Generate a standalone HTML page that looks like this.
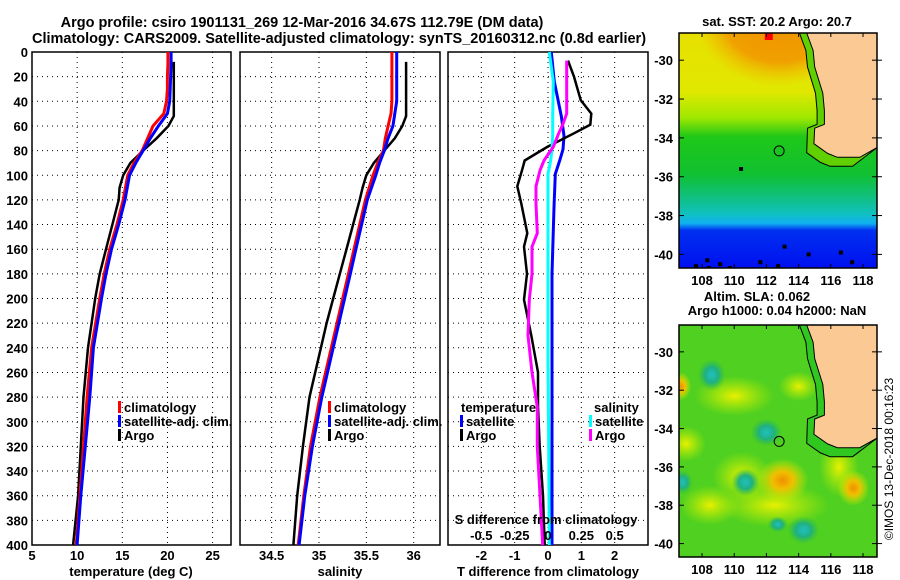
<!DOCTYPE html>
<html><head><meta charset="utf-8"><style>
html,body{margin:0;padding:0;background:#fff}
svg{display:block;font-family:"Liberation Sans",Arial,sans-serif;font-weight:bold}
text{font-size:13px;fill:#000}
</style></head><body>
<svg id="fig" width="900" height="580" viewBox="0 0 900 580" xmlns="http://www.w3.org/2000/svg">
<defs>
<linearGradient id="sstGrad" x1="0" y1="0" x2="0" y2="1">
<stop offset="0" stop-color="#e8e000"/><stop offset="0.25" stop-color="#e0e800"/><stop offset="0.36" stop-color="#a0e800"/>
<stop offset="0.44" stop-color="#20c818"/><stop offset="0.6" stop-color="#10c030"/><stop offset="0.7" stop-color="#10c080"/>
<stop offset="0.77" stop-color="#10c0c0"/><stop offset="0.81" stop-color="#10b0f0"/><stop offset="0.84" stop-color="#0030f0"/><stop offset="1" stop-color="#0010f0"/>
</linearGradient>
<radialGradient id="orangeBlob" cx="0.5" cy="0.3" r="0.5"><stop offset="0" stop-color="#f09000"/><stop offset="0.65" stop-color="#f0a000"/><stop offset="1" stop-color="#f0c000" stop-opacity="0"/></radialGradient>
<radialGradient id="tealBlob"><stop offset="0" stop-color="#20c0c0"/><stop offset="0.5" stop-color="#20b080"/><stop offset="1" stop-color="#30c040" stop-opacity="0"/></radialGradient>
<radialGradient id="yelBlob"><stop offset="0" stop-color="#e8f000"/><stop offset="1" stop-color="#c0f000" stop-opacity="0"/></radialGradient>
<radialGradient id="orBlob"><stop offset="0" stop-color="#f09000"/><stop offset="0.4" stop-color="#f0c000"/><stop offset="1" stop-color="#d0f000" stop-opacity="0"/></radialGradient>
<clipPath id="clip1"><rect x="679" y="33" width="198" height="235"/></clipPath>
<clipPath id="clip2"><rect x="679" y="325" width="198" height="232"/></clipPath>
</defs>
<text x="302" y="27" text-anchor="middle" style="font-size:14.5px">Argo profile: csiro 1901131_269 12-Mar-2016 34.67S 112.79E (DM data)</text>
<text x="339" y="43" text-anchor="middle" style="font-size:14.5px">Climatology: CARS2009. Satellite-adjusted climatology: synTS_20160312.nc (0.8d earlier)</text>
<g id="plots"></g>
<g id="maps"></g>
<text transform="translate(893,459) rotate(-90)" text-anchor="middle" style="font-size:12px;font-weight:normal">©IMOS 13-Dec-2018 00:16:23</text>
</svg>
<script>
const depths=[0,10,20,30,40,50,60,70,80,90,100,120,140,160,180,200,240,280,320,360,400];
const tClim=[20.05,20.05,20.0,20.0,19.9,19.6,18.4,17.8,17.2,16.3,15.6,15.1,14.4,13.6,13.0,12.5,11.6,11.1,10.7,10.3,9.9];
const tSat=[20.4,20.4,20.35,20.3,20.25,20.0,19.0,18.1,17.3,16.5,15.8,15.3,14.6,13.8,13.2,12.7,11.8,11.4,10.9,10.4,10.0];
const argoDepths=[8,20,40,52,60,70,80,90,100,110,120,140,160,180,200,220,240,280,320,360,400];
const tArgo=[20.7,20.7,20.7,20.7,20.1,18.8,17.3,15.9,15.1,14.7,14.6,13.9,13.2,12.5,12.0,11.6,11.2,10.7,10.4,10.1,9.55];
const sClim=[35.77,35.77,35.77,35.77,35.77,35.76,35.73,35.70,35.68,35.62,35.57,35.49,35.43,35.37,35.31,35.25,35.13,35.01,34.91,34.84,34.78];
const sSat=[35.82,35.82,35.82,35.82,35.82,35.80,35.78,35.73,35.69,35.64,35.60,35.51,35.45,35.39,35.33,35.27,35.15,35.03,34.93,34.85,34.79];
const sArgo=[35.92,35.92,35.92,35.92,35.88,35.80,35.69,35.58,35.50,35.46,35.43,35.36,35.29,35.22,35.15,35.08,35.02,34.90,34.83,34.77,34.73];
const diffDepths=[7,20,39,50,59,66,77,88,96,109,123,147,158,180,201,230,260,288,320,360,400];
const tDiffArgo=[0.6,0.78,0.98,1.3,1.27,0.78,-0.02,-0.7,-0.78,-0.92,-0.8,-0.62,-0.72,-0.63,-0.72,-0.5,-0.3,-0.3,-0.25,-0.15,-0.1];
const sDiffArgo=[0.14,0.14,0.14,0.14,0.11,0.08,0.04,-0.03,-0.06,-0.09,-0.09,-0.08,-0.12,-0.12,-0.14,-0.15,-0.12,-0.08,-0.08,-0.06,-0.04];
const satDepths=[0,24,52,68,79,88,99,126,180,250,320,400];
const tDiffSat=[0.1,0.19,0.4,0.48,0.45,0.35,0.22,0.18,0.12,0.12,0.12,0.12];
const sDiffSat=[0.01,0.04,0.035,0.035,0.03,0.02,0.0,0.0,0.0,0.0,0.005,0.01];
const depthTicks=[0,20,40,60,80,100,120,140,160,180,200,220,240,260,280,300,320,340,360,380,400];
const tTicks=[5,10,15,20,25];
const salTicks=[34.5,35,35.5,36];
const tdTicks=[-2,-1,0,1,2];
const tdLabels=["-2","-1","0","1","2"];
const sdTicks=[-0.5,-0.25,0,0.25,0.5];
const sdLabels=["-0.5","-0.25","0","0.25","0.5"];
const latTicks=[-30,-32,-34,-36,-38,-40];
const lonTicks=[108,110,112,114,116,118];
const argoPos=[112.79,-34.67];
const coastLon=[114.5,114.9,115.0,115.5,115.6,115.6,115.0,114.95,115.8,116.4,117.8,118.87,118.87];
const coastLat=[-28.6,-29.5,-30.35,-31.7,-32.6,-33.3,-33.5,-34.3,-34.8,-35.0,-35.0,-34.5,-28.6];

const NS='http://www.w3.org/2000/svg';
function el(tag,attrs,parent){const e=document.createElementNS(NS,tag);for(const k in attrs)e.setAttribute(k,attrs[k]);parent.appendChild(e);return e;}
const plots=document.getElementById('plots');
const Y0=52,Y1=545;
const yD=d=>Y0+(d/400)*(Y1-Y0);
function scale(x0,x1,v0,v1){return v=>x0+(v-v0)/(v1-v0)*(x1-x0);}

function frame(x0,x1,gridX,name){
  const g=el('g',{},plots);
  
  
  depthTicks.forEach(d=>{if(d>0&&d<400){const l=el('line',{x1:x0,x2:x1,y1:yD(d),y2:yD(d),stroke:'#000','stroke-width':1,'stroke-dasharray':'1,4'},g);
    
    }});
  gridX.forEach(x=>{if(x>x0+1&&x<x1-1){const l=el('line',{x1:x,x2:x,y1:Y0,y2:Y1,stroke:'#000','stroke-width':1,'stroke-dasharray':'1,4'},g);
    
    }});
  const r=el('rect',{x:x0,y:Y0,width:x1-x0,height:Y1-Y0,fill:'none',stroke:'#000','stroke-width':1.5},g);
  
  
  return g;
}
function line(g,xs,ds,sx,color,w,name){
  const pts=xs.map((v,i)=>sx(v).toFixed(1)+','+yD(ds[i]).toFixed(1)).join(' ');
  const p=el('polyline',{points:pts,fill:'none',stroke:color,'stroke-width':w,'stroke-linejoin':'miter'},g);
  
  
}
function txt(g,x,y,s,anchor,name,size){
  const t=el('text',{x:x,y:y,'text-anchor':anchor||'start'},g);
  if(size)t.style.fontSize=size+'px';
  t.textContent=s;
  
  
  return t;
}
function legend(g,x,y,color,label){
  const m=el('rect',{x:x,y:y-6,width:3,height:12,fill:color},g);
  
  
  txt(g,x+6,y+5,label,'start','legend-entry');
}

const dl=el('g',{},plots);


depthTicks.forEach(d=>txt(dl,28,yD(d)+5,String(d),'end','depth-tick-label'));

const sxT=scale(32,231,5,5+199/9.03);
const g1=frame(32,231,tTicks.map(sxT),'temperature-panel');
line(g1,tArgo,argoDepths,sxT,'#000',2.5,'argo-temperature-line');
line(g1,tClim,depths,sxT,'#f00',3,'climatology-temperature-line');
line(g1,tSat,depths,sxT,'#00f',3,'satellite-temperature-line');
tTicks.forEach(v=>txt(g1,sxT(v),560,String(v),'middle','temperature-tick-label'));
txt(g1,131,576,'temperature (deg C)','middle','temperature-axis-title');
legend(g1,118,407,'#f00','climatology');
legend(g1,118,421,'#00f','satellite-adj. clim.');
legend(g1,118,435,'#000','Argo');

const sxS=scale(240,440,35-79/94.7,35+121/94.7);
const g2=frame(240,440,salTicks.map(sxS),'salinity-panel');
line(g2,sArgo,argoDepths,sxS,'#000',2.5,'argo-salinity-line');
line(g2,sClim,depths,sxS,'#f00',3,'climatology-salinity-line');
line(g2,sSat,depths,sxS,'#00f',3,'satellite-salinity-line');
salTicks.forEach(v=>txt(g2,sxS(v),560,String(v),'middle','salinity-tick-label'));
txt(g2,340,576,'salinity','middle','salinity-axis-title');
legend(g2,328,407,'#f00','climatology');
legend(g2,328,421,'#00f','satellite-adj. clim.');
legend(g2,328,435,'#000','Argo');

const sxTD=scale(448,648,-3,3);
const sxSD=scale(448,648,-0.75,0.75);
const g3=frame(448,648,tdTicks.map(sxTD),'difference-panel');
line(g3,tDiffSat,satDepths,sxTD,'#00f',3,'satellite-temperature-difference-line');
line(g3,tDiffArgo,diffDepths,sxTD,'#000',2.5,'argo-temperature-difference-line');
line(g3,sDiffSat,satDepths,sxSD,'#0ff',3,'satellite-salinity-difference-line');
line(g3,sDiffArgo,diffDepths,sxSD,'#f0f',3,'argo-salinity-difference-line');
tdTicks.forEach((v,i)=>txt(g3,sxTD(v),560,tdLabels[i],'middle','t-difference-tick-label'));
sdTicks.forEach((v,i)=>txt(g3,sxSD(v),540,sdLabels[i],'middle','s-difference-tick-label'));
txt(g3,546,524,'S difference from climatology','middle','s-difference-axis-title');
txt(g3,548,576,'T difference from climatology','middle','t-difference-axis-title');
txt(g3,461,412,'temperature','start','temperature-legend-title');
legend(g3,460,421,'#00f','satellite');
legend(g3,460,435,'#000','Argo');
txt(g3,594,412,'salinity','start','salinity-legend-title');
legend(g3,589,421,'#0ff','satellite');
legend(g3,589,435,'#f0f','Argo');

const maps=document.getElementById('maps');
const mx=lon=>679+(lon-106.57)*16.1;
function drawMap(top,bottom,kind,name){
  const my=lat=>top+(-28.6-lat)*((bottom-top)/12.1);
  const g=el('g',{'clip-path':'url(#clip'+kind+')'},maps);
  
  
  if(kind===1){
    el('rect',{x:679,y:top,width:198,height:bottom-top,fill:'url(#sstGrad)'},g);
    el('ellipse',{cx:mx(112.8),cy:my(-29.2),rx:85,ry:70,fill:'url(#orangeBlob)'},g);
    el('rect',{x:mx(111.9),y:top,width:8,height:7,fill:'#f00'},g);
    const specks=[[107.5,-40.5],[108.3,-40.6],[109,-40.4],[109.6,-40.6],[111.5,-40.3],[112.6,-40.5],[113,-39.5],[114.5,-39.9],[116.5,-39.8],[117.2,-40.3],[110.3,-35.5],[108.2,-40.2]];
    specks.forEach(p=>el('rect',{x:mx(p[0]),y:my(p[1]),width:4,height:4,fill:'#000'},g));
  } else {
    el('rect',{x:679,y:top,width:198,height:bottom-top,fill:'#50d020'},g);
    const yb=[[110,-32.3,40,20],[112.5,-38,55,22],[108.5,-38,30,20],[114,-31.8,20,15],[116.5,-36,20,30],[110.5,-36.5,30,25],[107,-34.8,20,18]];
    yb.forEach(b=>el('ellipse',{cx:mx(b[0]),cy:my(b[1]),rx:b[2],ry:b[3],fill:'url(#yelBlob)'},g));
    const tb=[[108.6,-31.2,14,16],[112,-34.2,16,14],[110.7,-36.8,14,14],[114.3,-39.3,16,14],[106.8,-36.8,10,12],[112.7,-39,10,8]];
    tb.forEach(b=>el('ellipse',{cx:mx(b[0]),cy:my(b[1]),rx:b[2],ry:b[3],fill:'url(#tealBlob)'},g));
    el('ellipse',{cx:mx(113),cy:my(-36.7),rx:26,ry:22,fill:'url(#orBlob)'},g);
    el('ellipse',{cx:mx(117.4),cy:my(-37.1),rx:16,ry:18,fill:'url(#orBlob)'},g);
    el('ellipse',{cx:mx(106.7),cy:my(-31.8),rx:10,ry:14,fill:'url(#orBlob)'},g);
  }
  const shelf=coastLon.map((v,i)=>mx(v-(i<11?0.45:0)).toFixed(1)+','+(my(coastLat[i])+(i>=7&&i<11?9:0)).toFixed(1)).join(' ');
  const sh=el('polygon',{points:shelf,fill:kind===1?'#60d000':'#30c820',stroke:'#000','stroke-width':1},g);
  
  
  const land=coastLon.map((v,i)=>mx(v).toFixed(1)+','+my(coastLat[i]).toFixed(1)).join(' ');
  const ld=el('polygon',{points:land,fill:'#fac994',stroke:'#000','stroke-width':1},g);
  
  
  const c=el('circle',{cx:mx(argoPos[0]),cy:my(argoPos[1]),r:5,fill:'none',stroke:'#000','stroke-width':1},maps);
  
  
  const fr=el('rect',{x:679,y:top,width:198,height:bottom-top,fill:'none',stroke:'#000','stroke-width':1.5},maps);
  
  
  latTicks.forEach(l=>{const y=my(l);
    el('line',{x1:679,x2:684,y1:y,y2:y,stroke:'#000'},maps);
    el('line',{x1:872,x2:882,y1:y,y2:y,stroke:'#000'},maps);
    txt(maps,673,y+5,String(l),'end','latitude-tick-label');});
  lonTicks.forEach(l=>{const x=mx(l);
    el('line',{x1:x,x2:x,y1:top,y2:top+4,stroke:'#000'},maps);
    el('line',{x1:x,x2:x,y1:bottom-4,y2:bottom,stroke:'#000'},maps);
    txt(maps,x,bottom+17,String(l),'middle','longitude-tick-label');});
}
drawMap(33,268,1,'sst-map');
drawMap(325,557,2,'sla-map');
txt(maps,777,26,'sat. SST: 20.2 Argo: 20.7','middle','sst-map-title');
txt(maps,757,301,'Altim. SLA: 0.062','middle','sla-map-title');
txt(maps,777,315,'Argo h1000: 0.04 h2000: NaN','middle','sla-map-subtitle');
</script>
</body></html>
